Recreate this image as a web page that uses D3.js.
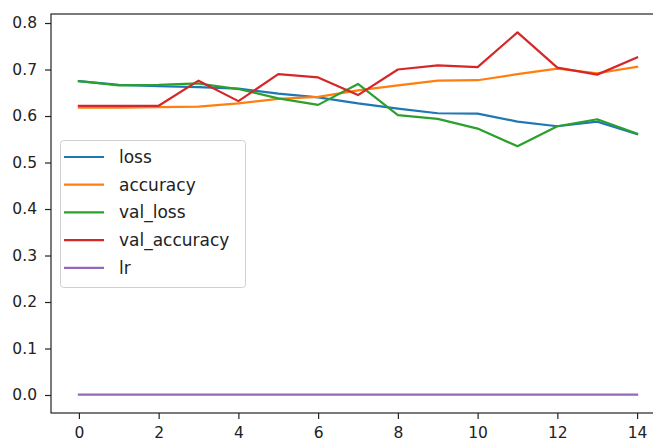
<!DOCTYPE html>
<html>
<head>
<meta charset="utf-8">
<script src="https://cdn.jsdelivr.net/npm/d3@7"></script>
<style>
  html, body { margin: 0; padding: 0; background: #fff; }
  svg { display: block; font-family: "DejaVu Sans", sans-serif; }
</style>
</head>
<body>
<svg id="chart" width="653" height="441"></svg>
<script>
// Training history per epoch
const epochs = [0, 1, 2, 3, 4, 5, 6, 7, 8, 9, 10, 11, 12, 13, 14];
const loss        = [0.675, 0.667, 0.664, 0.662, 0.659, 0.648, 0.640, 0.627, 0.616, 0.606, 0.605, 0.588, 0.578, 0.588, 0.561];
const accuracy    = [0.618, 0.618, 0.619, 0.620, 0.627, 0.637, 0.641, 0.655, 0.666, 0.676, 0.677, 0.690, 0.702, 0.692, 0.706];
const valLoss     = [0.675, 0.666, 0.667, 0.670, 0.658, 0.638, 0.624, 0.669, 0.602, 0.594, 0.573, 0.535, 0.578, 0.593, 0.562];
const valAccuracy = [0.622, 0.622, 0.622, 0.676, 0.632, 0.690, 0.683, 0.645, 0.700, 0.709, 0.705, 0.780, 0.704, 0.689, 0.726];
const lr          = [0.001, 0.001, 0.001, 0.001, 0.001, 0.001, 0.001, 0.001, 0.001, 0.001, 0.001, 0.001, 0.001, 0.001, 0.001];

const seriesNames = ["loss", "accuracy", "val_loss", "val_accuracy", "lr"];
const seriesValues = [loss, accuracy, valLoss, valAccuracy, lr];
const seriesColors = ["#1f77b4", "#ff7f0e", "#2ca02c", "#d62728", "#9467bd"];

const xTicks = [0, 2, 4, 6, 8, 10, 12, 14];
const yTicks = [0.0, 0.1, 0.2, 0.3, 0.4, 0.5, 0.6, 0.7, 0.8];

const svg = d3.select("#chart");

const plot = { left: 51, right: 665, top: 14, bottom: 413 };

const x = d3.scaleLinear().domain([-0.7, 14.7]).range([plot.left, plot.right]);
const y = d3.scaleLinear().domain([-0.0387, 0.8194]).range([plot.bottom, plot.top]);

const tickFont = 15.5;
const legendFont = 17;

// Lines
const line = d3.line()
  .x((d, i) => x(epochs[i]))
  .y(d => y(d));

seriesValues.forEach((vals, k) => {
  svg.append("path")
    .datum(vals)
    .attr("fill", "none")
    .attr("stroke", seriesColors[k])
    .attr("stroke-width", 2.2)
    .attr("stroke-linejoin", "round")
    .attr("stroke-linecap", "square")
    .attr("d", line);
});

// Axes
const xAxis = d3.axisBottom(x)
  .tickValues(xTicks)
  .tickFormat(d3.format("d"))
  .tickSize(6)
  .tickPadding(8);

const yAxis = d3.axisLeft(y)
  .tickValues(yTicks)
  .tickFormat(d3.format(".1f"))
  .tickSize(6)
  .tickPadding(8);

const gx = svg.append("g")
  .attr("transform", `translate(0,${plot.bottom})`)
  .call(xAxis);
gx.select(".domain").remove();
gx.selectAll("text").attr("font-size", tickFont).attr("fill", "#222")
  .attr("font-family", "DejaVu Sans, sans-serif");
gx.selectAll("line").attr("stroke", "#222").attr("stroke-width", 1.2);

const gy = svg.append("g")
  .attr("transform", `translate(${plot.left},0)`)
  .call(yAxis);
gy.select(".domain").remove();
gy.selectAll("text").attr("font-size", tickFont).attr("fill", "#222")
  .attr("font-family", "DejaVu Sans, sans-serif");
gy.selectAll("line").attr("stroke", "#222").attr("stroke-width", 1.2);

// Frame
svg.append("rect")
  .attr("x", plot.left)
  .attr("y", plot.top)
  .attr("width", plot.right - plot.left)
  .attr("height", plot.bottom - plot.top)
  .attr("fill", "none")
  .attr("stroke", "#222")
  .attr("stroke-width", 1.2);

// Legend
const legend = svg.append("g").attr("transform", "translate(60,140)");
legend.append("rect")
  .attr("x", 0.5).attr("y", 0.5)
  .attr("width", 185).attr("height", 147)
  .attr("rx", 3).attr("ry", 3)
  .attr("fill", "#fff").attr("fill-opacity", 0.8)
  .attr("stroke", "#d0d0d0").attr("stroke-width", 1);

seriesNames.forEach((name, k) => {
  const rowY = 17 + k * 27.7;
  legend.append("line")
    .attr("x1", 4).attr("x2", 44)
    .attr("y1", rowY).attr("y2", rowY)
    .attr("stroke", seriesColors[k])
    .attr("stroke-width", 2.2);
  legend.append("text")
    .attr("x", 59).attr("y", rowY)
    .attr("dy", "0.35em")
    .attr("font-size", legendFont)
    .attr("fill", "#222")
    .text(name);
});
</script>
</body>
</html>
